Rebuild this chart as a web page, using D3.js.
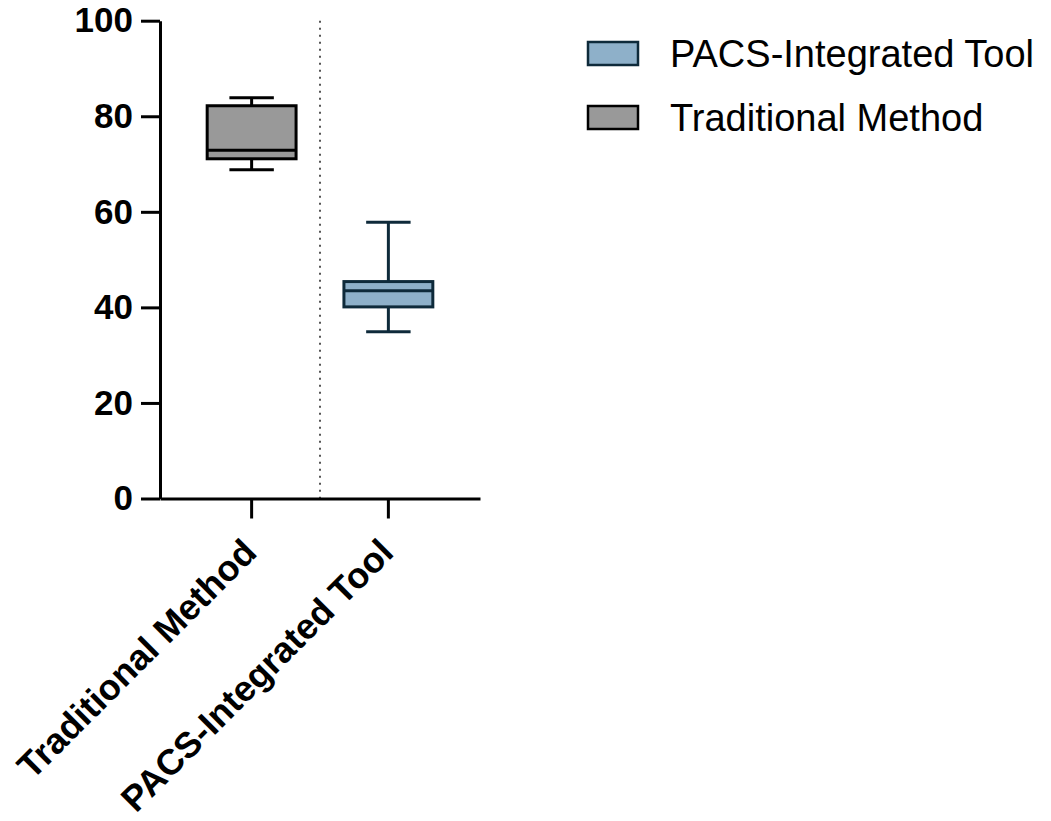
<!DOCTYPE html>
<html>
<head>
<meta charset="utf-8">
<script src="https://cdn.jsdelivr.net/npm/d3@7"></script>
<style>
  html, body { margin: 0; padding: 0; background: #fff; }
  svg { display: block; }
</style>
</head>
<body>
<svg id="chart" width="1051" height="821"></svg>
<script>
// ---- data ----
const categories = ["Traditional Method", "PACS-Integrated Tool"];
const whiskerLow  = [68.8, 34.9];
const q1          = [71.1, 40.1];
const median      = [72.9, 43.5];
const q3          = [82.2, 45.4];
const whiskerHigh = [83.9, 57.8];
const yTicks = [0, 20, 40, 60, 80, 100];
const legendLabels = ["PACS-Integrated Tool", "Traditional Method"];

// ---- styles ----
const fills   = {"Traditional Method": "#999999", "PACS-Integrated Tool": "#8EB0C9"};
const strokes = {"Traditional Method": "#000000", "PACS-Integrated Tool": "#0E2A3A"};

const svg = d3.select("#chart");

const y = d3.scaleLinear().domain([0, 100]).range([498.5, 20.7]);
const x = d3.scaleBand().domain(categories).range([160, 480]).paddingInner(0).paddingOuter(0.17);

const cx = d => x(d) + x.bandwidth() / 2;
const boxW = x.step() * 0.65;
const capW = boxW / 2;

// dotted separator
const sepX = (cx(categories[0]) + cx(categories[1])) / 2;
svg.append("line")
  .attr("x1", sepX).attr("x2", sepX)
  .attr("y1", y(100)).attr("y2", y(0))
  .attr("stroke", "#555").attr("stroke-width", 2)
  .attr("stroke-dasharray", "2,5");

// boxes
const rows = categories.map((c, i) => ({c, lo: whiskerLow[i], q1: q1[i], med: median[i], q3: q3[i], hi: whiskerHigh[i]}));
const g = svg.append("g");
rows.forEach(r => {
  const col = strokes[r.c];
  const xc = cx(r.c);
  g.append("line").attr("x1", xc).attr("x2", xc).attr("y1", y(r.hi)).attr("y2", y(r.q3))
    .attr("stroke", col).attr("stroke-width", 3);
  g.append("line").attr("x1", xc).attr("x2", xc).attr("y1", y(r.q1)).attr("y2", y(r.lo))
    .attr("stroke", col).attr("stroke-width", 3);
  g.append("line").attr("x1", xc - capW/2).attr("x2", xc + capW/2).attr("y1", y(r.hi)).attr("y2", y(r.hi))
    .attr("stroke", col).attr("stroke-width", 3);
  g.append("line").attr("x1", xc - capW/2).attr("x2", xc + capW/2).attr("y1", y(r.lo)).attr("y2", y(r.lo))
    .attr("stroke", col).attr("stroke-width", 3);
  g.append("rect").attr("x", xc - boxW/2).attr("width", boxW)
    .attr("y", y(r.q3)).attr("height", y(r.q1) - y(r.q3))
    .attr("fill", fills[r.c]).attr("stroke", col).attr("stroke-width", 3);
  g.append("line").attr("x1", xc - boxW/2).attr("x2", xc + boxW/2).attr("y1", y(r.med)).attr("y2", y(r.med))
    .attr("stroke", col).attr("stroke-width", 3);
});

// y axis
const yAxis = svg.append("g").attr("transform", "translate(160,0)")
  .call(d3.axisLeft(y).tickValues(yTicks).tickSize(19).tickSizeOuter(0).tickPadding(8));
yAxis.select(".domain").attr("stroke", "#000").attr("stroke-width", 3);
yAxis.selectAll(".tick line").attr("stroke", "#000").attr("stroke-width", 3);
yAxis.selectAll(".tick text")
  .attr("font-family", "'Liberation Sans', Arial, sans-serif")
  .attr("font-weight", "bold").attr("font-size", 35).attr("fill", "#000");

// x axis
const xAxis = svg.append("g").attr("transform", `translate(0,${y(0)})`)
  .call(d3.axisBottom(x).tickSize(20).tickSizeOuter(0));
xAxis.select(".domain").attr("stroke", "#000").attr("stroke-width", 3);
xAxis.selectAll(".tick line").attr("stroke", "#000").attr("stroke-width", 3);
xAxis.selectAll(".tick text")
  .attr("font-family", "'Liberation Sans', Arial, sans-serif")
  .attr("font-weight", "bold").attr("font-size", 36).attr("fill", "#000")
  .attr("text-anchor", "end")
  .attr("x", 0).attr("y", 0).attr("dy", 0)
  .attr("transform", "translate(7,56) rotate(-45)");

// legend
const legend = svg.append("g").attr("transform", "translate(588,42)");
legendLabels.forEach((lab, i) => {
  const row = legend.append("g").attr("transform", `translate(0,${i * 64})`);
  row.append("rect").attr("x", 0).attr("y", 0).attr("width", 50).attr("height", 23)
    .attr("fill", fills[lab]).attr("stroke", strokes[lab]).attr("stroke-width", 2.5);
  row.append("text").attr("x", 82).attr("y", 25)
    .attr("font-family", "'Liberation Sans', Arial, sans-serif")
    .attr("font-size", 38).attr("fill", "#000").text(lab);
});
</script>
</body>
</html>
